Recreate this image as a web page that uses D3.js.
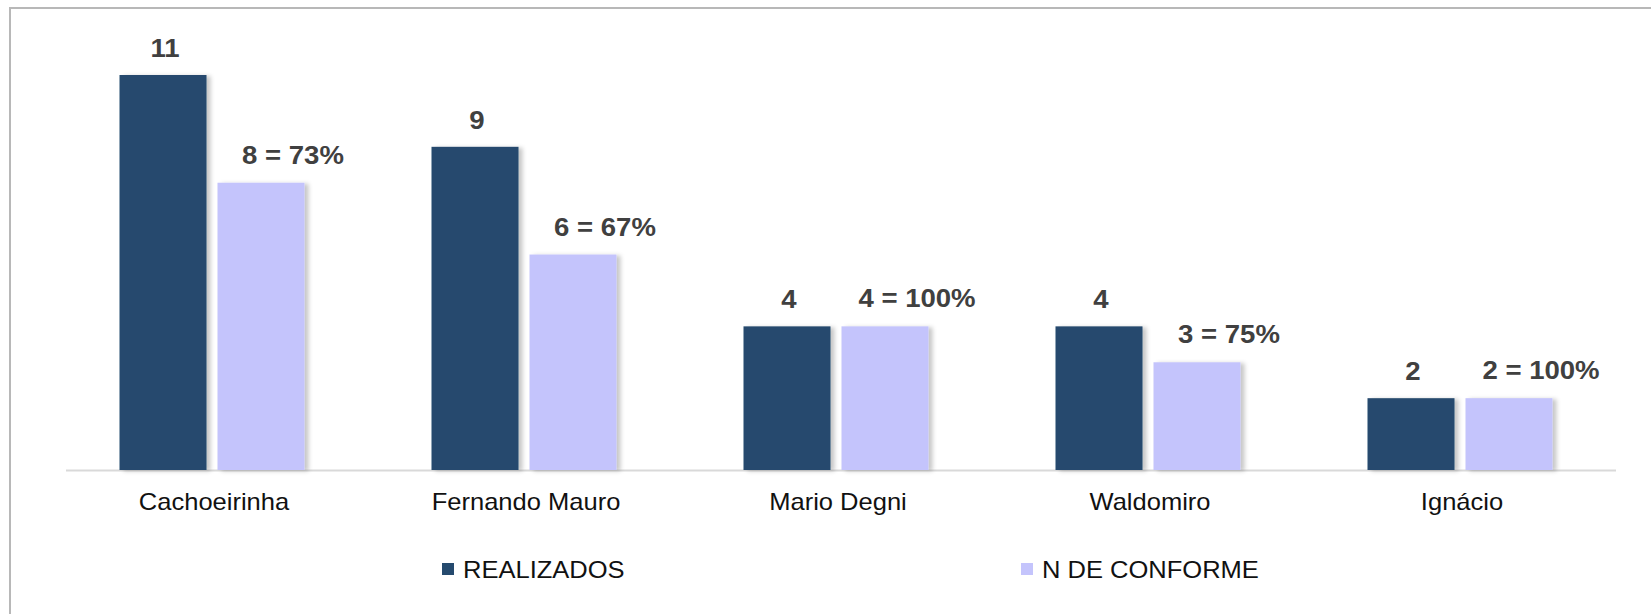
<!DOCTYPE html>
<html>
<head>
	<meta charset="utf-8">
	<title>Realizados x N de Conforme</title>
	<script src="https://d3js.org/d3.v7.min.js"></script>
	<style>
		body { margin: 0; background: #fff; }
		text { font-family: Arial, "Liberation Sans", sans-serif; }
	</style>
</head>
<body>
	<svg width="1651" height="614"></svg>
	<script>
		// data
		const categories = ['Cachoeirinha', 'Fernando Mauro', 'Mario Degni', 'Waldomiro', 'Ignácio'];
		const series = ['REALIZADOS', 'N DE CONFORME'];
		const realizados = [11, 9, 4, 4, 2];
		const naoConforme = [8, 6, 4, 3, 2];
		const pctLabels = ['73%', '67%', '100%', '75%', '100%'];

		const colors = ['#254a6e', '#c4c4fc'];

		const W = 1651, H = 614;
		const baseY = 470;
		const svg = d3.select('svg');

		// frame
		svg.append('rect')
			.attr('x', 10).attr('y', 8)
			.attr('width', W + 20).attr('height', H + 20)
			.attr('fill', 'none')
			.attr('stroke', '#b8b8b8')
			.attr('stroke-width', 2);

		// soft shadow to the right of bars
		const defs = svg.append('defs');
		defs.append('filter').attr('id', 'shadow')
			.attr('x', '-10%').attr('y', '-10%').attr('width', '130%').attr('height', '120%')
			.append('feDropShadow')
			.attr('dx', 4).attr('dy', 1)
			.attr('stdDeviation', 2)
			.attr('flood-color', '#000')
			.attr('flood-opacity', 0.22);

		const x0 = d3.scaleBand()
			.domain(categories)
			.range([56, 1616]);

		const x1 = d3.scaleBand()
			.domain(series)
			.range([-92.5, 92.5])
			.paddingInner(0.112);

		const y = d3.scaleLinear()
			.domain([0, 11])
			.range([baseY, 75]);

		const rows = categories.map((c, i) => ({
			cat: c,
			vals: [
				{ s: series[0], v: realizados[i], label: String(realizados[i]) },
				{ s: series[1], v: naoConforme[i], label: naoConforme[i] + ' = ' + pctLabels[i] }
			]
		}));

		// x axis line
		svg.append('line')
			.attr('x1', 66).attr('x2', x0.range()[1])
			.attr('y1', baseY + 0.5).attr('y2', baseY + 0.5)
			.attr('stroke', '#d9d9d9')
			.attr('stroke-width', 2);

		const groups = svg.selectAll('g.grp')
			.data(rows)
			.enter()
			.append('g')
			.attr('class', 'grp')
			.attr('transform', d => `translate(${x0(d.cat) + x0.bandwidth() / 2},0)`);

		groups.selectAll('rect')
			.data(d => d.vals)
			.enter()
			.append('rect')
			.attr('x', d => x1(d.s))
			.attr('y', d => y(d.v))
			.attr('width', x1.bandwidth())
			.attr('height', d => baseY - y(d.v))
			.attr('fill', (d, i) => colors[i])
			.attr('filter', 'url(#shadow)');

		// value labels (text looks slightly stretched horizontally in the original)
		groups.selectAll('text.val')
			.data(d => d.vals)
			.enter()
			.append('text')
			.attr('class', 'val')
			.attr('transform', (d, i) => {
				const cx = x1(d.s) + x1.bandwidth() / 2 + (i === 1 ? 32 : 2);
				const ty = y(d.v) - (i === 1 ? 19 : 18);
				return `translate(${cx},${ty}) scale(1.06,1)`;
			})
			.attr('text-anchor', 'middle')
			.attr('font-size', 26)
			.attr('font-weight', 'bold')
			.attr('fill', '#404040')
			.text(d => d.label);

		// category labels
		groups.append('text')
			.attr('transform', `translate(2,510) scale(1.11,1)`)
			.attr('text-anchor', 'middle')
			.attr('font-size', 23)
			.attr('fill', '#111')
			.text(d => d.cat);

		// legend
		const legendX = [442, 1021];
		const legend = svg.selectAll('g.leg')
			.data(series)
			.enter()
			.append('g')
			.attr('class', 'leg')
			.attr('transform', (d, i) => `translate(${legendX[i]},563)`);

		legend.append('rect')
			.attr('width', 12).attr('height', 12)
			.attr('fill', (d, i) => colors[i]);

		legend.append('text')
			.attr('transform', 'translate(21,15) scale(1.11,1)')
			.attr('font-size', 23)
			.attr('fill', '#111')
			.text(d => d);
	</script>
</body>
</html>
